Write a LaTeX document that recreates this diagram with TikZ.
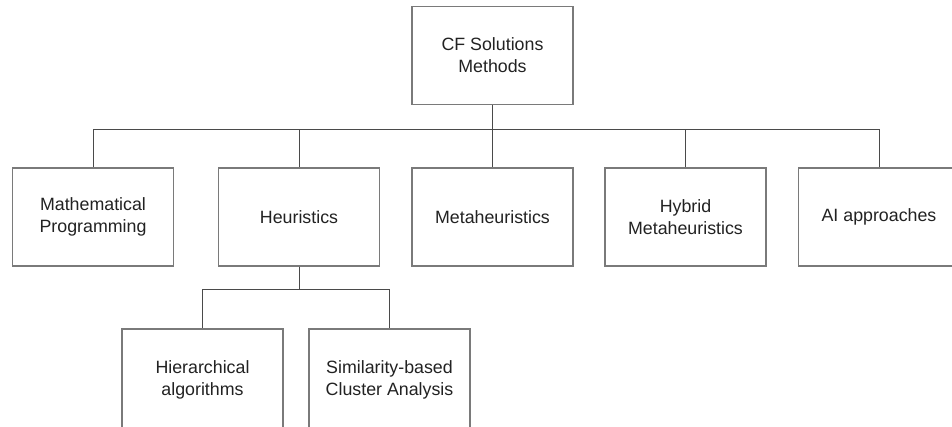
\documentclass[tikz,border=0pt]{standalone}
\usepackage{fontspec}
\setmainfont{Liberation Sans}
\usepackage{tikz}
\usetikzlibrary{positioning,calc}
\definecolor{boxgray}{HTML}{7A7A7A}
\definecolor{linegray}{HTML}{4A4A4A}
\definecolor{textgray}{HTML}{222222}

\begin{document}
\begin{tikzpicture}[x=1pt,y=-1pt,
    box/.style={draw=boxgray, line width=1.2pt, fill=white, text=textgray,
      minimum width=161pt, minimum height=98pt, align=center, inner sep=0pt,
      font=\fontsize{17.8}{22}\selectfont},
    conn/.style={draw=linegray, line width=0.9pt}]
        \useasboundingbox (0,0) rectangle (952,426);
        \clip (0,0) rectangle (952,426);
        % root and first level
        \node[box] (root) at (492.5,55.5) {CF Solutions\\Methods};
        \node[box] (mp) at (93,217) {Mathematical\\Programming};
        \node[box] (heur) at (299,217) {Heuristics};
        \node[box] (meta) at (492.5,217) {Metaheuristics};
        \node[box] (hyb) at (685.5,217) {Hybrid\\Metaheuristics};
        \node[box] (ai) at (879,217) {AI approaches};
        % second level under heuristics (runs off the bottom edge)
        \node[box, minimum height=102pt] (hier) at (202.5,380) {Hierarchical\\algorithms};
        \node[box, minimum height=102pt] (sim) at (389.5,380) {Similarity-based\\Cluster Analysis};
        \coordinate (bus) at (492.5,129);
        \coordinate (subbus) at (299,289);
        \foreach \c in {mp,heur,meta,hyb,ai}
          \draw[conn] (root.south) -- (root.south |- bus) -| (\c.north);
        \foreach \c in {hier,sim}
          \draw[conn] (heur.south) -- (heur.south |- subbus) -| (\c.north);
      \end{tikzpicture}
\end{document}
